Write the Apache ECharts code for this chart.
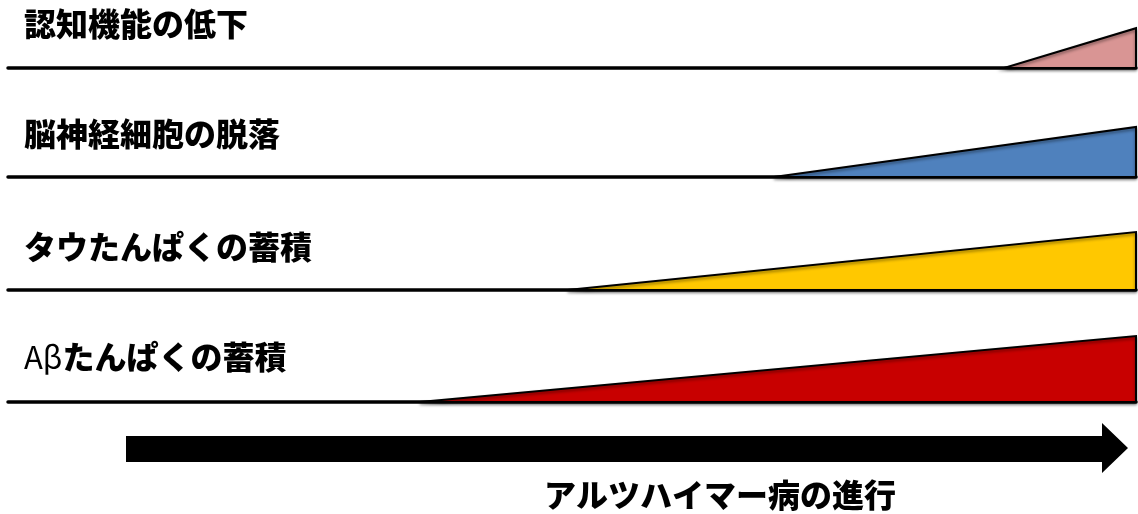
<!DOCTYPE html>
<html>
<head>
<meta charset="utf-8">
<script src="https://cdn.jsdelivr.net/npm/echarts@6/dist/echarts.min.js"></script>
<style>
html, body { margin: 0; padding: 0; background: #fff; }
#stageChart { width: 1138px; height: 514px; }
</style>
</head>
<body>
<div id="stageChart"></div>
<script>
// rows from top to bottom
var stageNames = ['認知機能の低下', '脳神経細胞の脱落', 'タウたんぱくの蓄積', 'Aβたんぱくの蓄積'];
// progress (0-100) where each change starts to appear
var onsetPos = [88.3, 67.9, 49.6, 36.5];
// height reached at the right end (progress 100)
var peakLevel = [41, 50, 58, 66];
var stageColors = ['#D99594', '#4F81BD', '#FFC800', '#C80000'];
var progressLabel = 'アルツハイマー病の進行';

var baselineY = [68, 177, 290, 402];
var labelY = [24, 134, 247, 357];
var fontFam = '"Noto Sans CJK JP", sans-serif';

var chart = echarts.init(document.getElementById('stageChart'));

var grids = [], xAxes = [], yAxes = [], series = [], titles = [];
stageNames.forEach(function (name, i) {
  grids.push({ left: 8, right: 2, top: baselineY[i] - 70, height: 70 });
  xAxes.push({
    type: 'value', gridIndex: i, min: 0, max: 100,
    axisLine: { show: true, onZero: false, lineStyle: { color: '#000', width: 3.5 } },
    axisTick: { show: false }, axisLabel: { show: false }, splitLine: { show: false }
  });
  yAxes.push({
    type: 'value', gridIndex: i, min: 0, max: 70, show: false
  });
  series.push({
    type: 'custom',
    xAxisIndex: i, yAxisIndex: i,
    data: [[onsetPos[i], peakLevel[i]]],
    renderItem: function (params, api) {
      var p0 = api.coord([api.value(0), 0]);
      var p1 = api.coord([100, 0]);
      var p2 = api.coord([100, api.value(1)]);
      return {
        type: 'polygon',
        shape: { points: [p0, p1, p2] },
        style: {
          fill: stageColors[i], stroke: '#000', lineWidth: 2,
          shadowBlur: 3, shadowColor: 'rgba(0,0,0,0.45)', shadowOffsetY: 2
        }
      };
    }
  });
  var txt = name;
  if (name.indexOf('Aβ') === 0) txt = '{a|Aβ}{b|' + name.slice(2) + '}';
  titles.push({
    text: txt, left: 24, top: labelY[i] - 17, padding: 0,
    textStyle: {
      fontFamily: fontFam, fontSize: 32, fontWeight: 900, color: '#000', lineHeight: 34,
      rich: {
        a: { fontFamily: fontFam, fontSize: 31, fontWeight: 'normal', color: '#000', lineHeight: 34 },
        b: { fontFamily: fontFam, fontSize: 32, fontWeight: 900, color: '#000', lineHeight: 34 }
      }
    }
  });
});

chart.setOption({
  backgroundColor: '#fff',
  animation: false,
  title: titles,
  grid: grids,
  xAxis: xAxes,
  yAxis: yAxes,
  series: series,
  graphic: [
    {
      type: 'polygon',
      shape: { points: [[126, 436], [1102, 436], [1102, 423], [1128, 448], [1102, 473], [1102, 462], [126, 462]] },
      style: { fill: '#000' }
    },
    {
      type: 'text', x: 720, y: 495,
      style: {
        text: progressLabel, fill: '#000', font: '900 32px ' + fontFam,
        textAlign: 'center', textVerticalAlign: 'middle'
      }
    }
  ]
});
</script>
</body>
</html>
